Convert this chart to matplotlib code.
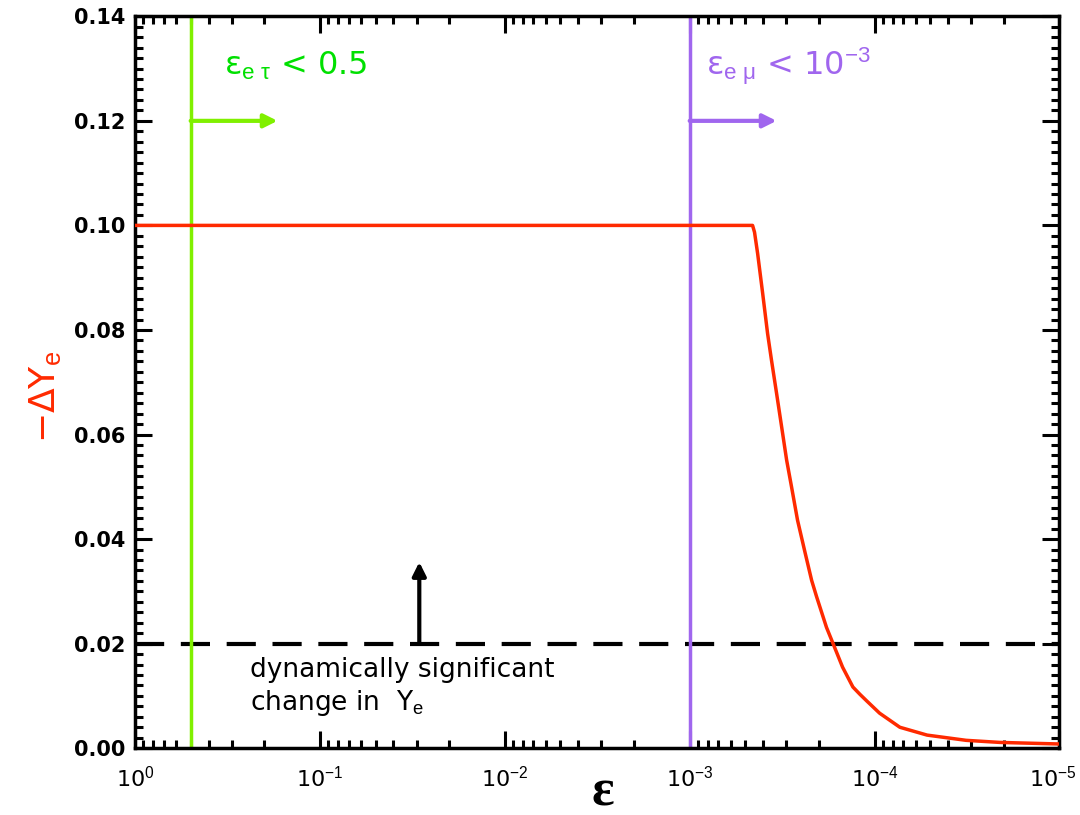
import numpy as np
import matplotlib
matplotlib.use("Agg")
import matplotlib.pyplot as plt
import matplotlib.transforms as mtrans
from matplotlib.ticker import MultipleLocator, LogLocator

plt.rcParams['font.family'] = ['DejaVu Sans']
plt.rcParams['mathtext.fontset'] = 'custom'
plt.rcParams['mathtext.rm'] = 'Liberation Sans'
plt.rcParams['mathtext.it'] = 'Liberation Sans:italic'
plt.rcParams['axes.unicode_minus'] = False

## Werte
eps = [1.0, 4.57e-4, 4.46e-4, 4.29e-4, 4.03e-4, 3.79e-4, 3.61e-4, 3.39e-4,
       3.18e-4, 2.99e-4, 2.81e-4, 2.61e-4, 2.38e-4, 2.19e-4, 2.06e-4, 1.82e-4,
       1.69e-4, 1.49e-4, 1.31e-4, 1.20e-4, 1.10e-4, 9.4e-5, 7.3e-5, 5.2e-5,
       3.2e-5, 2.1e-5, 1.0e-5]
dYe = [0.100, 0.100, 0.0987, 0.0946, 0.087, 0.0793, 0.0742, 0.0679,
       0.0614, 0.0551, 0.0499, 0.0436, 0.0375, 0.0321, 0.0290, 0.0231,
       0.0203, 0.0155, 0.0117, 0.0103, 0.0090, 0.0067, 0.0040, 0.0025,
       0.0015, 0.0011, 0.0008]

x_ticks = [1, 1e-1, 1e-2, 1e-3, 1e-4, 1e-5]
x_labels = ["10$^{0}$", "10$^{-1}$", "10$^{-2}$", "10$^{-3}$", "10$^{-4}$", "10$^{-5}$"]

eps_et = 0.5      # grenze fuer eps_e tau
eps_emu = 1.0e-3  # grenze fuer eps_e mu
ye_sig = 0.02     # dynamisch signifikant
arrow_x = 0.029
arrow_top = 0.0356

red = "#ff2a00"
green_line = "#80f000"
green_txt = "#00e000"
purple = "#a066ee"

fig = plt.figure(figsize=(10.8, 8.15), dpi=100)
ax = fig.add_axes([0.125, 0.082, 0.856, 0.898])

ax.plot(eps, dYe, color=red, lw=2.5, zorder=3)
ax.axhline(ye_sig, color="black", lw=3, dashes=(7, 4))
ax.axvline(eps_et, color=green_line, lw=2.5)
ax.axvline(eps_emu, color=purple, lw=2.5)

# pfeile
ax.annotate("", xy=(eps_et * 10**-0.47, 0.12), xytext=(eps_et, 0.12),
            arrowprops=dict(arrowstyle="-|>", color=green_line, lw=3, mutation_scale=20,
                            shrinkA=0, shrinkB=0))
ax.annotate("", xy=(eps_emu * 10**-0.47, 0.12), xytext=(eps_emu, 0.12),
            arrowprops=dict(arrowstyle="-|>", color=purple, lw=3, mutation_scale=20,
                            shrinkA=0, shrinkB=0))
ax.annotate("", xy=(arrow_x, arrow_top), xytext=(arrow_x, ye_sig),
            arrowprops=dict(arrowstyle="-|>", color="black", lw=3, mutation_scale=20,
                            shrinkA=0, shrinkB=0))

ax.text(0.33, 0.1305, "ε$_{\\mathrm{e}\\ \\mathrm{τ}}$ < 0.5", color=green_txt,
        fontsize=23, va="center")
ax.text(8.2e-4, 0.1305, "ε$_{\\mathrm{e}\\ \\mathrm{μ}}$ < 10$^{\\mathrm{-3}}$", color=purple,
        fontsize=23, va="center")
ax.text(0.24, 0.0149, "dynamically significant", fontsize=19, va="center")
ax.text(0.24, 0.0086, "change in  Y$_{\\mathrm{e}}$", fontsize=19, va="center")

ax.set_xscale("log")
ax.set_xlim(1, 1e-5)
ax.set_ylim(0, 0.14)
ax.yaxis.set_minor_locator(MultipleLocator(0.002))
ax.set_xticks(x_ticks)
ax.set_xticklabels(x_labels, fontsize=16)
ax.xaxis.set_minor_locator(LogLocator(base=10, subs=np.arange(2, 10), numticks=20))
yt = np.arange(0, 0.141, 0.02)
ax.set_yticks(yt)
ax.set_yticklabels([f"{v:.2f}" for v in yt], fontweight="bold", fontsize=15)

ax.tick_params(which="both", direction="in", top=True, right=True, width=2.2)
ax.tick_params(axis="x", pad=12)
ax.tick_params(axis="y", pad=7)
ax.tick_params(which="major", length=12)
ax.tick_params(which="minor", length=6)
for s in ax.spines.values():
    s.set_linewidth(2.5)

# letztes label etwas nach links, damit es nicht abgeschnitten wird
last = ax.get_xticklabels()[-1]
last.set_transform(last.get_transform() + mtrans.ScaledTranslation(-5 / 72, 0, fig.dpi_scale_trans))

fig.text(603 / 1080, 1 - 792 / 815, "ε", fontsize=38, fontweight="bold",
         family="Liberation Serif", ha="center", va="center")
ax.set_ylabel("−ΔY$_{\\mathrm{e}}$", color=red, fontsize=26)
ax.yaxis.set_label_coords(-0.078, 0.48)

fig.savefig("out.png", dpi=100)
